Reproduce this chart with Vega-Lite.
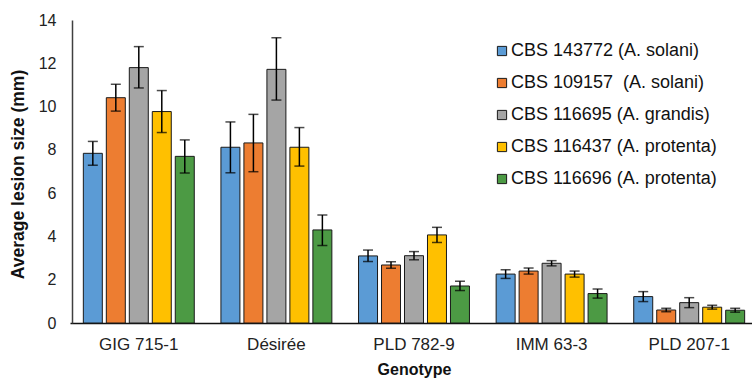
{
  "$schema": "https://vega.github.io/schema/vega-lite/v6.json",
  "width": 680,
  "height": 303,
  "autosize": {"type": "none"},
  "padding": {"left": 72, "top": 20, "right": 0, "bottom": 57},
  "background": "white",
  "config": {
    "font": "Liberation Sans",
    "view": {"stroke": null},
    "axis": {"grid": false, "ticks": false, "labelFont": "Liberation Sans", "titleFont": "Liberation Sans", "labelColor": "#222222", "titleColor": "#111111"}
  },
  "data": {
    "values": [
      {"g": "GIG 715-1", "s": "CBS 143772 (A. solani)", "v": 7.84, "lo": 7.29, "hi": 8.39},
      {"g": "GIG 715-1", "s": "CBS 109157\u00a0 (A. solani)", "v": 10.41, "lo": 9.79, "hi": 11.03},
      {"g": "GIG 715-1", "s": "CBS 116695 (A. grandis)", "v": 11.8, "lo": 10.86, "hi": 12.77},
      {"g": "GIG 715-1", "s": "CBS 116437 (A. protenta)", "v": 9.77, "lo": 8.8, "hi": 10.74},
      {"g": "GIG 715-1", "s": "CBS 116696 (A. protenta)", "v": 7.7, "lo": 6.93, "hi": 8.46},
      {"g": "Désirée", "s": "CBS 143772 (A. solani)", "v": 8.12, "lo": 6.94, "hi": 9.29},
      {"g": "Désirée", "s": "CBS 109157\u00a0 (A. solani)", "v": 8.32, "lo": 6.99, "hi": 9.64},
      {"g": "Désirée", "s": "CBS 116695 (A. grandis)", "v": 11.72, "lo": 10.3, "hi": 13.18},
      {"g": "Désirée", "s": "CBS 116437 (A. protenta)", "v": 8.12, "lo": 7.25, "hi": 9.03},
      {"g": "Désirée", "s": "CBS 116696 (A. protenta)", "v": 4.3, "lo": 3.58, "hi": 4.99},
      {"g": "PLD 782-9", "s": "CBS 143772 (A. solani)", "v": 3.1, "lo": 2.84, "hi": 3.37},
      {"g": "PLD 782-9", "s": "CBS 109157\u00a0 (A. solani)", "v": 2.68, "lo": 2.53, "hi": 2.83},
      {"g": "PLD 782-9", "s": "CBS 116695 (A. grandis)", "v": 3.11, "lo": 2.92, "hi": 3.3},
      {"g": "PLD 782-9", "s": "CBS 116437 (A. protenta)", "v": 4.07, "lo": 3.72, "hi": 4.42},
      {"g": "PLD 782-9", "s": "CBS 116696 (A. protenta)", "v": 1.71, "lo": 1.5, "hi": 1.93},
      {"g": "IMM 63-3", "s": "CBS 143772 (A. solani)", "v": 2.26, "lo": 2.06, "hi": 2.46},
      {"g": "IMM 63-3", "s": "CBS 109157\u00a0 (A. solani)", "v": 2.4, "lo": 2.26, "hi": 2.54},
      {"g": "IMM 63-3", "s": "CBS 116695 (A. grandis)", "v": 2.76, "lo": 2.64, "hi": 2.88},
      {"g": "IMM 63-3", "s": "CBS 116437 (A. protenta)", "v": 2.26, "lo": 2.12, "hi": 2.4},
      {"g": "IMM 63-3", "s": "CBS 116696 (A. protenta)", "v": 1.36, "lo": 1.15, "hi": 1.57},
      {"g": "PLD 207-1", "s": "CBS 143772 (A. solani)", "v": 1.22, "lo": 0.99, "hi": 1.45},
      {"g": "PLD 207-1", "s": "CBS 109157\u00a0 (A. solani)", "v": 0.6, "lo": 0.52, "hi": 0.68},
      {"g": "PLD 207-1", "s": "CBS 116695 (A. grandis)", "v": 0.94, "lo": 0.71, "hi": 1.17},
      {"g": "PLD 207-1", "s": "CBS 116437 (A. protenta)", "v": 0.73, "lo": 0.64, "hi": 0.82},
      {"g": "PLD 207-1", "s": "CBS 116696 (A. protenta)", "v": 0.59, "lo": 0.5, "hi": 0.68}
    ]
  },
  "encoding": {
    "x": {
      "field": "g", "type": "nominal", "sort": null,
      "scale": {"range": [-2, 686], "paddingInner": 0, "paddingOuter": 0},
      "axis": {"title": "Genotype", "labelAngle": 0, "labelFontSize": 17, "labelPadding": 13, "titleFontSize": 16, "titleFontWeight": "bold", "titlePadding": 9, "domainColor": "#111111", "domainWidth": 1.5}
    },
    "xOffset": {
      "field": "s", "type": "nominal", "sort": null,
      "scale": {"paddingInner": 0.174, "paddingOuter": 0.58}
    }
  },
  "layer": [
    {
      "mark": {"type": "bar", "stroke": "#1a1a1a", "strokeWidth": 1},
      "encoding": {
        "y": {
          "field": "v", "type": "quantitative",
          "scale": {"domain": [0, 14]},
          "axis": {"title": "Average lesion size (mm)", "values": [0, 2, 4, 6, 8, 10, 12, 14], "labelOverlap": false, "labelFlush": false, "labelBound": false, "labelFontSize": 16, "labelPadding": 16, "titleFontSize": 17.5, "titleFontWeight": "bold", "titleX": -45, "titleY": 154, "titleAlign": "center", "titleBaseline": "bottom", "titleAngle": 270, "domainColor": "#404040", "domainWidth": 1.5}
        },
        "color": {
          "field": "s", "type": "nominal", "sort": null,
          "scale": {
            "domain": ["CBS 143772 (A. solani)", "CBS 109157\u00a0 (A. solani)", "CBS 116695 (A. grandis)", "CBS 116437 (A. protenta)", "CBS 116696 (A. protenta)"],
            "range": ["#5B9BD5", "#ED7D31", "#A5A5A5", "#FFC000", "#4C9A44"]
          },
          "legend": {
            "title": null, "orient": "none", "legendX": 421, "legendY": 22,
            "symbolType": "square", "symbolSize": 85, "symbolStrokeColor": "#1a1a1a", "symbolStrokeWidth": 1,
            "labelFontSize": 18, "labelFont": "Liberation Sans", "labelColor": "#111111", "labelLimit": 300,
            "rowPadding": 14, "labelOffset": 0
          }
        }
      }
    },
    {
      "mark": {"type": "rule", "color": "#000000", "strokeWidth": 1.5},
      "encoding": {
        "y": {"field": "lo", "type": "quantitative"},
        "y2": {"field": "hi"}
      }
    },
    {
      "mark": {"type": "tick", "color": "#000000", "thickness": 1.5, "size": 10},
      "encoding": {
        "y": {"field": "lo", "type": "quantitative"}
      }
    },
    {
      "mark": {"type": "tick", "color": "#000000", "thickness": 1.5, "size": 10},
      "encoding": {
        "y": {"field": "hi", "type": "quantitative"}
      }
    }
  ]
}
